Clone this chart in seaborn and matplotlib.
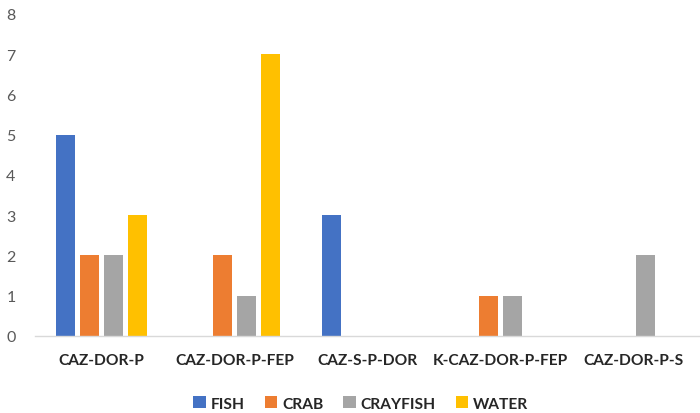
import pandas as pd
import matplotlib.pyplot as plt
import seaborn as sns

categories = ['CAZ-DOR-P', 'CAZ-DOR-P-FEP', 'CAZ-S-P-DOR', 'K-CAZ-DOR-P-FEP', 'CAZ-DOR-P-S']
series = ['FISH', 'CRAB', 'CRAYFISH', 'WATER']
fish = [5, 0, 3, 0, 0]
crab = [2, 2, 0, 1, 0]
crayfish = [2, 1, 0, 1, 2]
water = [3, 7, 0, 0, 0]
colors = ['#4472C4', '#ED7D31', '#A5A5A5', '#FFC000']

# long form for seaborn
rows = []
for name, vals in zip(series, [fish, crab, crayfish, water]):
    for cat, v in zip(categories, vals):
        rows.append({'cat': cat, 'series': name, 'value': v})
df = pd.DataFrame(rows)

sns.set_style('white')
plt.rcParams['font.family'] = ['Lato', 'DejaVu Sans']

fig = plt.figure(figsize=(7, 4.14), dpi=100)
ax = fig.add_axes([0.05, 0.186, 0.95, 0.778])

sns.barplot(data=df, x='cat', y='value', hue='series', hue_order=series,
            palette=colors, width=0.72, gap=0.2, errorbar=None, ax=ax,
            saturation=1, linewidth=0)

ax.set_ylim(0, 8)
ax.set_xlim(-0.5, 4.5)
ax.set_yticks(range(0, 9))
ax.set_xlabel('')
ax.set_ylabel('')
ax.tick_params(axis='y', length=0, labelsize=11.5, labelcolor='#595959', pad=14)
ax.tick_params(axis='x', length=0, labelsize=11.2, pad=12)
for lab in ax.get_xticklabels():
    lab.set_fontweight('bold')

for s in ['top', 'right', 'left']:
    ax.spines[s].set_visible(False)
ax.spines['bottom'].set_color('#D9D9D9')
ax.spines['bottom'].set_linewidth(1)

sns.move_legend(ax, 'lower center', bbox_to_anchor=(0.49, -0.275), ncol=4,
                frameon=False, title=None, handlelength=0.8, handleheight=0.8,
                handletextpad=0.3, columnspacing=1.3,
                prop={'weight': 'bold', 'size': 11.2})

fig.savefig('out.png', dpi=100)
